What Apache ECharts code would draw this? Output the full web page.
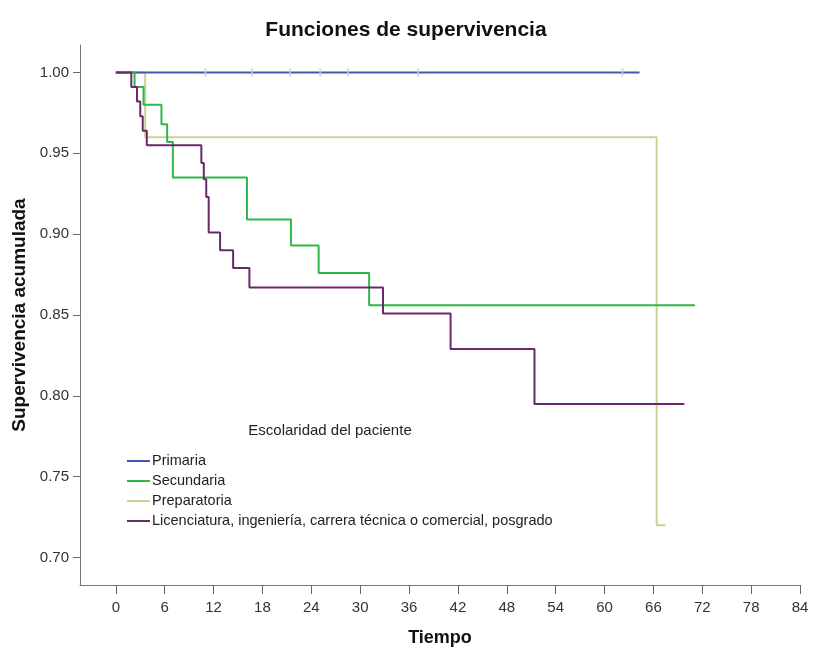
<!DOCTYPE html>
<html>
<head>
<meta charset="utf-8">
<script src="https://cdn.jsdelivr.net/npm/echarts@6/dist/echarts.min.js"></script>
<style>html,body{margin:0;padding:0;background:#fff}#c{width:813px;height:656px}</style>
</head>
<body>
<div id="c"></div>
<script>
// ---- data ----
const groups = ['Primaria', 'Secundaria', 'Preparatoria', 'Licenciatura, ingeniería, carrera técnica o comercial, posgrado'];

const timePrimaria = [0, 64.3];
const survPrimaria = [1.000, 1.000];
const censorPrimariaTime = [11.0, 16.7, 21.4, 25.1, 28.5, 37.1, 62.2];

const timeSecundaria = [0, 2.3, 3.4, 5.6, 6.3, 7.0, 16.1, 21.5, 24.9, 31.1, 71.1];
const survSecundaria = [1.000, 0.991, 0.980, 0.968, 0.957, 0.935, 0.909, 0.893, 0.876, 0.856, 0.856];

const timePreparatoria = [0, 3.6, 66.4, 67.5];
const survPreparatoria = [1.000, 0.960, 0.720, 0.720];

const timeLicenciatura = [0, 1.9, 2.6, 3.0, 3.3, 3.8, 10.5, 10.8, 11.1, 11.4, 12.8, 14.4, 16.4, 32.8, 41.1, 51.4, 69.8];
const survLicenciatura = [1.000, 0.991, 0.982, 0.973, 0.964, 0.955, 0.944, 0.934, 0.923, 0.901, 0.890, 0.879, 0.867, 0.851, 0.829, 0.795, 0.795];

const xTicks = [0, 6, 12, 18, 24, 30, 36, 42, 48, 54, 60, 66, 72, 78, 84];
const yTicks = [0.70, 0.75, 0.80, 0.85, 0.90, 0.95, 1.00];

const colors = {
  'Primaria': '#3E58AC',
  'Secundaria': '#2EB848',
  'Preparatoria': '#D3CE97',
  'Licenciatura, ingeniería, carrera técnica o comercial, posgrado': '#6A2868'
};

const zip = (t, s) => t.map((v, i) => [v, s[i]]);
const FONT = 'Liberation Sans, Arial, sans-serif';

function kmSeries(name, t, s, z) {
  return {
    name, type: 'line', step: 'end', data: zip(t, s), showSymbol: false, symbol: 'none',
    lineStyle: { color: colors[name], width: 2 }, itemStyle: { color: colors[name] },
    z, animation: false, silent: true
  };
}

const chart = echarts.init(document.getElementById('c'), null, { renderer: 'canvas' });
chart.setOption({
  backgroundColor: '#ffffff',
  animation: false,
  textStyle: { fontFamily: FONT },
  title: {
    text: 'Funciones de supervivencia', left: 401, top: 15, textAlign: 'center',
    textStyle: { fontFamily: FONT, fontSize: 21, fontWeight: 'bold', color: '#111' }
  },
  graphic: [{
    type: 'text', x: 330, y: 431,
    style: { text: 'Escolaridad del paciente', fontFamily: FONT, fontSize: 15, fill: '#222', align: 'center', verticalAlign: 'middle' }
  }],
  legend: {
    data: groups, orient: 'vertical', left: 122, top: 448,
    icon: 'rect', itemWidth: 23, itemHeight: 2, itemGap: 4,
    textStyle: { fontFamily: FONT, fontSize: 14.5, color: '#222', padding: [0, 0, 0, -3], lineHeight: 16 },
    selectedMode: false
  },
  grid: { left: 80, top: 45, right: 13, bottom: 71, containLabel: false },
  xAxis: {
    type: 'value', min: -4.4, max: 84,
    name: 'Tiempo', nameLocation: 'middle', nameGap: 44,
    nameTextStyle: { fontFamily: FONT, fontSize: 18, fontWeight: 'bold', color: '#111' },
    axisLine: { show: true, onZero: false, lineStyle: { color: '#777', width: 1 } },
    axisTick: { show: true, length: 9, customValues: xTicks, lineStyle: { color: '#666' } },
    axisLabel: { customValues: xTicks, fontFamily: FONT, fontSize: 15, color: '#333', margin: 15 },
    splitLine: { show: false }
  },
  yAxis: {
    type: 'value', min: 0.683, max: 1.017,
    name: 'Supervivencia acumulada', nameLocation: 'middle', nameGap: 50, nameRotate: 90,
    nameTextStyle: { fontFamily: FONT, fontSize: 19, fontWeight: 'bold', color: '#111' },
    axisLine: { show: true, onZero: false, lineStyle: { color: '#777', width: 1 } },
    axisTick: { show: true, length: 7, customValues: yTicks, lineStyle: { color: '#666' } },
    axisLabel: { customValues: yTicks, formatter: v => v.toFixed(2), fontFamily: FONT, fontSize: 15, color: '#333', margin: 11 },
    splitLine: { show: false }
  },
  series: [
    kmSeries('Preparatoria', timePreparatoria, survPreparatoria, 1),
    kmSeries('Primaria', timePrimaria, survPrimaria, 2),
    kmSeries('Secundaria', timeSecundaria, survSecundaria, 3),
    kmSeries('Licenciatura, ingeniería, carrera técnica o comercial, posgrado', timeLicenciatura, survLicenciatura, 4),
    {
      name: 'censor', type: 'scatter', data: censorPrimariaTime.map(t => [t, 1]),
      symbol: 'rect', symbolSize: [2, 8], itemStyle: { color: '#c9cde0' }, z: 5, silent: true
    }
  ]
});
</script>
</body>
</html>
